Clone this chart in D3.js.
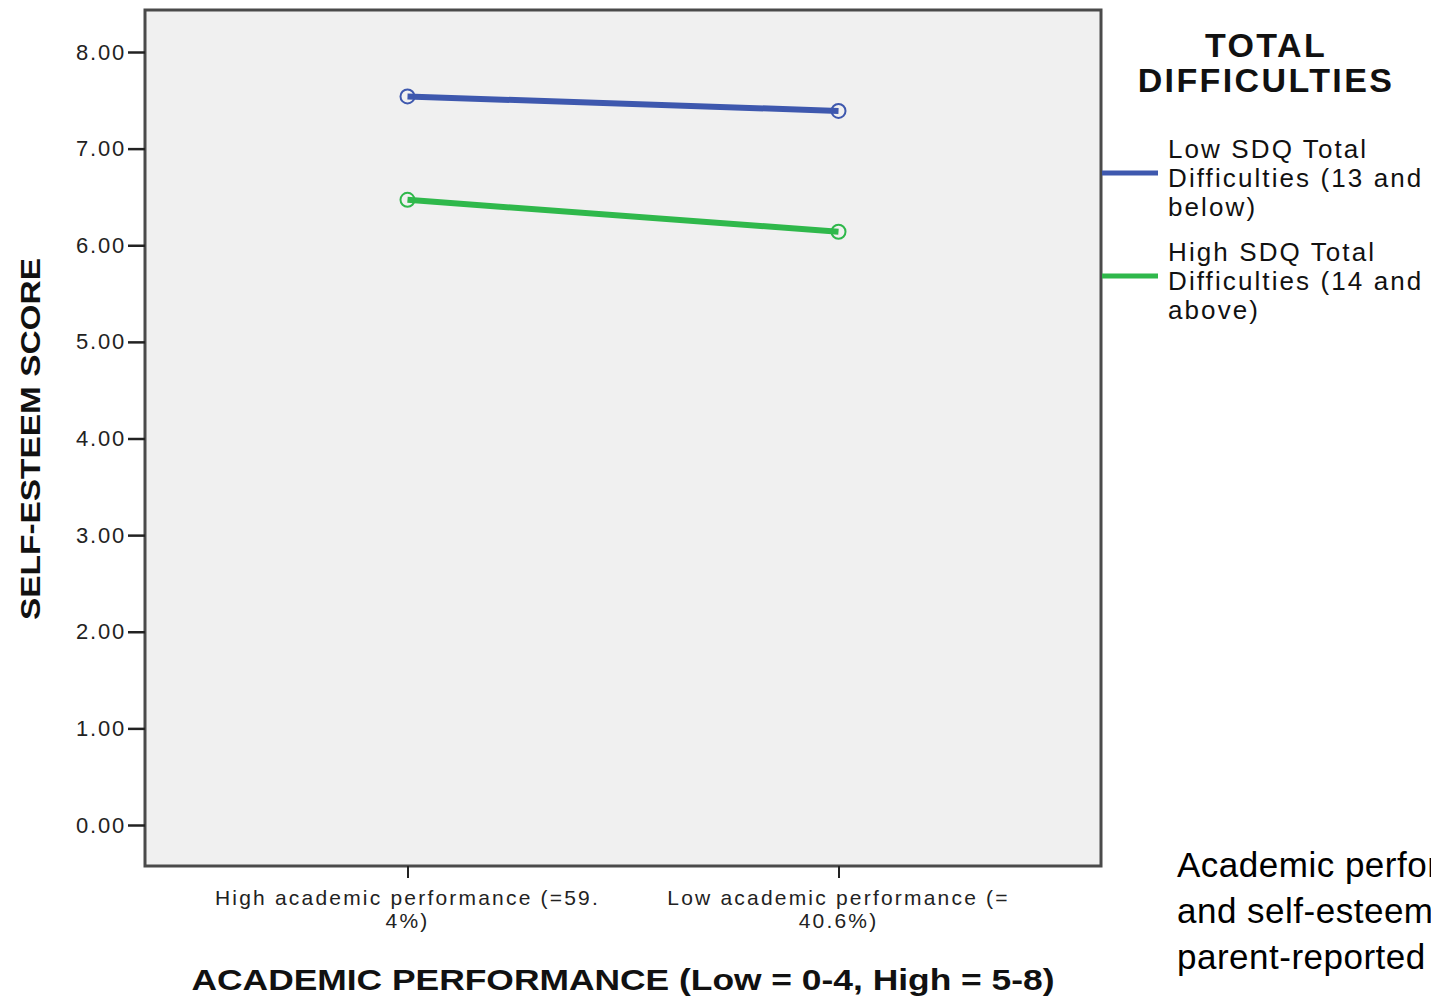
<!DOCTYPE html>
<html><head><meta charset="utf-8">
<script src="https://cdn.jsdelivr.net/npm/d3@7"></script>
<style>body{margin:0;background:#fff;overflow:hidden}svg{display:block}</style>
</head><body>
<svg id="c" width="1431" height="996"></svg>
<script>
const categories = ["High academic performance (=59.|4%)", "Low academic performance (=|40.6%)"];
const seriesNames = ["Low SDQ Total|Difficulties (13 and|below)", "High SDQ Total|Difficulties (14 and|above)"];
const lowSDQ = [7.54, 7.39];
const highSDQ = [6.47, 6.14];
const yTicks = [0, 1, 2, 3, 4, 5, 6, 7, 8];
const seriesColors = ["#3e58ae", "#2fb84b"];
const legendTitle = ["TOTAL", "DIFFICULTIES"];
const xTitle = "ACADEMIC PERFORMANCE (Low = 0-4, High = 5-8)";
const yTitle = "SELF-ESTEEM SCORE";
const caption = ["Academic performance", "and self-esteem by", "parent-reported"];

const FONT = "Liberation Sans, Arial, sans-serif";
const svg = d3.select("#c");
const L = 145, R = 1101, T = 10, B = 866;
const x = d3.scalePoint().domain(categories).range([L, R]).padding(0.609);
const y = d3.scaleLinear().domain([0, 8]).range([825, 52]);

svg.append("rect").attr("x", L).attr("y", T).attr("width", R - L).attr("height", B - T)
  .attr("fill", "#f0f0f0").attr("stroke", "#4a4a4a").attr("stroke-width", 3);

// y axis
const ya = svg.append("g").attr("transform", `translate(${L},0)`)
  .call(d3.axisLeft(y).tickValues(yTicks).tickFormat(d3.format(".2f")).tickSize(17).tickPadding(2));
ya.select(".domain").remove();
ya.selectAll(".tick line").attr("stroke", "#222").attr("stroke-width", 2.5);
ya.selectAll(".tick text").attr("font-family", FONT).attr("font-size", 22).attr("letter-spacing", 1.8).attr("fill", "#222");

// x axis
const xa = svg.append("g").attr("transform", `translate(0,${B})`)
  .call(d3.axisBottom(x).tickSize(12).tickFormat(""));
xa.select(".domain").remove();
xa.selectAll(".tick line").attr("stroke", "#222").attr("stroke-width", 2);
categories.forEach(c => {
  const parts = c.split("|");
  const t = svg.append("text").attr("x", x(c)).attr("y", 905).attr("text-anchor", "middle")
    .attr("font-family", FONT).attr("font-size", 21).attr("letter-spacing", 2.2).attr("fill", "#222");
  parts.forEach((p, i) => t.append("tspan").attr("x", x(c)).attr("dy", i ? 23 : 0).text(p));
});

// lines
const line = d3.line().x((d, i) => x(categories[i])).y(d => y(d));
[lowSDQ, highSDQ].forEach((s, k) => {
  svg.append("path").attr("d", line(s)).attr("fill", "none").attr("stroke", seriesColors[k]).attr("stroke-width", 6);
  svg.selectAll(null).data(s).enter().append("circle")
    .attr("cx", (d, i) => x(categories[i])).attr("cy", d => y(d)).attr("r", 7)
    .attr("fill", "none").attr("stroke", seriesColors[k]).attr("stroke-width", 2);
});

// titles
svg.append("text").attr("x", (L + R) / 2).attr("y", 990).attr("text-anchor", "middle")
  .attr("font-family", FONT).attr("font-weight", "bold").attr("font-size", 30)
  .attr("textLength", 863).attr("lengthAdjust", "spacingAndGlyphs").attr("fill", "#111").text(xTitle);
svg.append("text").attr("transform", `translate(40,${(T + B) / 2 + 1}) rotate(-90)`).attr("text-anchor", "middle")
  .attr("font-family", FONT).attr("font-weight", "bold").attr("font-size", 28)
  .attr("textLength", 362).attr("lengthAdjust", "spacingAndGlyphs").attr("fill", "#111").text(yTitle);

// legend
legendTitle.forEach((t, i) => svg.append("text").attr("x", 1266).attr("y", 57 + i * 35).attr("text-anchor", "middle")
  .attr("font-family", FONT).attr("font-weight", "bold").attr("font-size", 34).attr("letter-spacing", 2.4)
  .attr("fill", "#111").text(t));
const legY = [173, 276];
seriesNames.forEach((n, k) => {
  svg.append("line").attr("x1", 1102).attr("x2", 1158).attr("y1", legY[k]).attr("y2", legY[k])
    .attr("stroke", seriesColors[k]).attr("stroke-width", 5);
  const t = svg.append("text").attr("font-family", FONT).attr("font-size", 26)
    .attr("letter-spacing", 2.1).attr("fill", "#111");
  n.split("|").forEach((p, i) => t.append("tspan").attr("x", 1168).attr("y", legY[k] - 15 + i * 29).text(p));
});

// caption
caption.forEach((c, i) => svg.append("text").attr("x", 1177).attr("y", 877 + i * 46)
  .attr("font-family", FONT).attr("font-size", 35).attr("letter-spacing", 0.5).attr("fill", "#000").text(c));
</script>
</body></html>
